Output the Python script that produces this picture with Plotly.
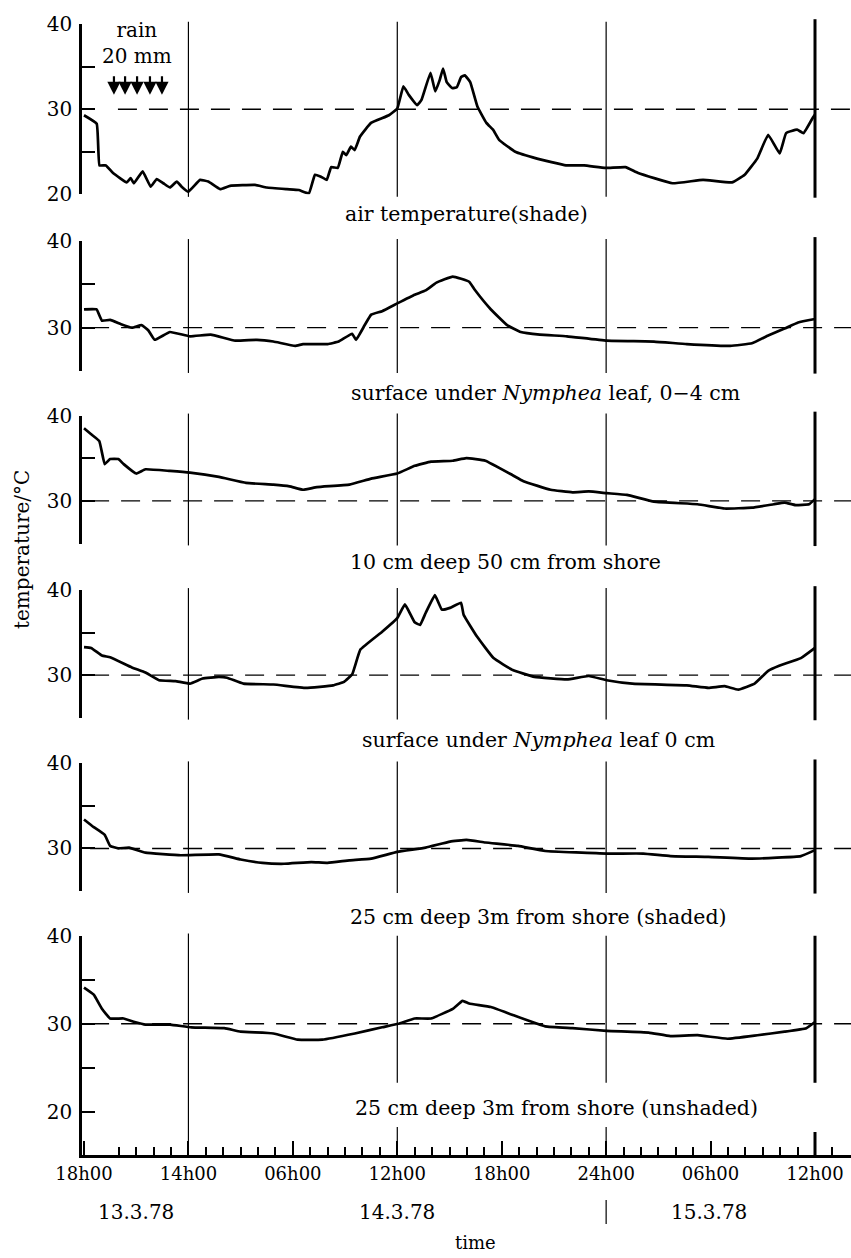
import plotly.graph_objects as go

# ---------------- data (hours after 18h00 on 13.3.78, temperature in °C) ----------------
AIR_H = [0, 0.73, 0.89, 1.26, 1.67, 2.45, 2.68, 2.87, 3.37, 3.83, 4.18, 4.56, 4.94, 5.33, 5.61,
         5.99, 6.67, 7.14, 7.82, 8.39, 9.83, 10.5, 11.65, 12.34, 12.92, 13.27, 13.58, 13.95, 14.2,
         14.58, 14.87, 15.07, 15.34, 15.55, 15.86, 16.49, 17.52, 18.0, 18.35, 18.66, 19.14, 19.39,
         19.91, 20.18, 20.43, 20.63, 20.84, 21.15, 21.42, 21.67, 21.88, 22.19, 22.61, 23.12, 23.5,
         23.85, 24.78, 26.03, 27.69, 28.73, 29.97, 31.11, 31.84, 33.81, 35.57, 37.23, 37.96, 38.68,
         39.31, 39.97, 40.34, 40.97, 41.34, 41.9, 42.0]
AIR_T = [29.3, 28.3, 23.4, 23.4, 22.5, 21.4, 21.9, 21.3, 22.7, 20.9, 21.8, 21.3, 20.8, 21.5, 20.9,
         20.3, 21.7, 21.5, 20.6, 21.0, 21.1, 20.8, 20.6, 20.5, 20.1, 22.3, 22.1, 21.7, 23.2,
         23.1, 25.0, 24.6, 25.6, 25.2, 26.8, 28.4, 29.3, 30.1, 32.7, 31.7, 30.5, 31.1,
         34.3, 32.1, 33.4, 34.8, 33.2, 32.5, 32.6, 33.8, 34.0, 33.2, 30.3, 28.4, 27.6,
         26.4, 25.0, 24.2, 23.4, 23.4, 23.1, 23.2, 22.5, 21.3, 21.7, 21.4, 22.3, 24.2,
         27.0, 24.8, 27.2, 27.6, 27.2, 29.1, 29.4]

SURF04_H = [0, 0.72, 1.03, 1.5, 2.13, 2.75, 3.31, 3.69, 4.06, 4.94, 6.09, 7.28, 8.69, 9.94, 10.88,
            12.13, 12.59, 14.0, 14.63, 15.4, 15.63, 16.13, 16.5, 17.13, 18.0, 19.0, 19.63, 20.25,
            21.19, 22.13, 22.44, 23.38, 24.31, 25.09, 26.19, 27.75, 30.03, 32.75, 34.63, 37.13,
            38.38, 39.31, 40.25, 41.03, 42.0]
SURF04_T = [32.1, 32.1, 30.8, 30.9, 30.4, 30.0, 30.3, 29.7, 28.6, 29.5, 29.0, 29.2, 28.5, 28.6, 28.4,
            27.9, 28.1, 28.1, 28.4, 29.3, 28.6, 30.3, 31.5, 31.9, 32.8, 33.8, 34.3, 35.2,
            35.9, 35.3, 34.4, 32.1, 30.3, 29.5, 29.2, 29.0, 28.5, 28.4, 28.1, 27.9,
            28.2, 29.1, 29.9, 30.6, 31.0]

DEEP10_H = [0, 0.41, 0.88, 1.19, 1.5, 1.97, 2.28, 3.0, 3.53, 4.94, 6.09, 7.75, 9.31, 10.88, 11.81,
            12.59, 13.38, 15.25, 16.5, 18.0, 19.0, 19.94, 21.19, 21.97, 23.06, 24.63, 25.25, 26.81,
            28.06, 29.0, 30.03, 31.19, 32.75, 35.25, 36.81, 38.38, 39.63, 40.25, 40.88, 41.66, 42.0]
DEEP10_T = [38.5, 37.8, 37.0, 34.3, 34.9, 34.9, 34.3, 33.2, 33.7, 33.5, 33.3, 32.8, 32.1, 31.9, 31.7,
            31.3, 31.6, 31.9, 32.6, 33.2, 34.1, 34.6, 34.7, 35.0, 34.7, 33.0, 32.3, 31.3,
            31.0, 31.1, 30.9, 30.7, 29.9, 29.6, 29.1, 29.2, 29.6, 29.8, 29.5, 29.6, 30.2]

SURF0_H = [0, 0.41, 1.03, 1.5, 2.75, 3.53, 4.31, 5.25, 6.09, 6.81, 7.75, 8.22, 9.16, 10.88, 12.75,
           14.31, 14.94, 15.41, 15.88, 17.13, 18.0, 18.44, 19.0, 19.31, 19.63, 20.16, 20.56, 21.03,
           21.66, 21.81, 22.59, 23.53, 24.63, 25.88, 27.75, 29.0, 30.03, 31.5, 34.63, 35.88, 36.81,
           37.59, 38.53, 39.31, 39.94, 41.19, 42.0]
SURF0_T = [33.3, 33.2, 32.3, 32.1, 30.9, 30.3, 29.4, 29.3, 29.0, 29.6, 29.8, 29.7, 29.0, 28.9, 28.5,
           28.8, 29.2, 30.1, 33.0, 35.1, 36.7, 38.3, 36.2, 35.9, 37.3, 39.4, 37.7, 37.9,
           38.5, 37.1, 34.5, 32.0, 30.6, 29.8, 29.5, 29.9, 29.4, 29.0, 28.8, 28.5, 28.7,
           28.3, 29.0, 30.5, 31.1, 32.0, 33.2]

SHADED_H = [0, 0.56, 1.19, 1.5, 1.97, 2.59, 3.53, 5.56, 7.75, 9.0, 10.25, 11.5, 13.06, 14.0, 15.25,
            16.5, 18.0, 19.63, 21.03, 21.97, 23.06, 24.94, 26.5, 30.03, 32.13, 33.69, 35.88, 38.38,
            41.19, 42.0]
SHADED_T = [33.4, 32.5, 31.6, 30.3, 30.0, 30.1, 29.5, 29.2, 29.3, 28.7, 28.3, 28.2, 28.4, 28.3, 28.6,
            28.8, 29.6, 30.1, 30.8, 31.0, 30.7, 30.3, 29.7, 29.4, 29.4, 29.1, 29.0, 28.8,
            29.1, 29.8]

UNSHADED_H = [0, 0.56, 1.03, 1.5, 2.28, 2.91, 3.53, 4.94, 6.16, 8.06, 9.0, 10.88, 12.28, 13.69, 15.56,
              17.13, 18.06, 19.0, 19.94, 21.19, 21.75, 22.13, 23.38, 24.63, 26.5, 28.06, 30.03, 32.44,
              33.69, 35.25, 36.97, 38.69, 40.25, 41.5, 42.0]
UNSHADED_T = [34.1, 33.3, 31.7, 30.6, 30.6, 30.2, 29.9, 29.9, 29.6, 29.5, 29.1, 28.9, 28.2, 28.2, 28.9,
              29.6, 30.0, 30.6, 30.6, 31.7, 32.6, 32.3, 31.9, 31.0, 29.7, 29.5, 29.2, 29.0,
              28.6, 28.7, 28.3, 28.7, 29.1, 29.5, 30.2]

PANEL_LABELS = ["air temperature(shade)",
                "surface under <i>Nymphea</i> leaf, 0\u22124 cm",
                "10 cm deep 50 cm from shore",
                "surface under <i>Nymphea</i> leaf 0 cm",
                "25 cm deep 3m from shore (shaded)",
                "25 cm deep 3m from shore (unshaded)"]

TICK_HOURS = [0, 6, 12, 18, 24, 30, 36, 42]
TICK_TEXT = ["18h00", "14h00", "06h00", "12h00", "18h00", "24h00", "06h00", "12h00"]
MINOR_HOURS = [h for h in range(2, 44) if h % 6 != 0]
MAJOR_LINE_HOURS = [6, 18, 30]
END_HOUR = 42
DATE_TEXT = ["13.3.78", "14.3.78", "15.3.78"]
DATE_HOURS = [3.0, 18.0, 35.9]
DAY_BREAK_HOUR = 30
RAIN_HOURS = [1.72, 2.36, 3.05, 3.79, 4.48]
REF_TEMP = 30

Y_RANGES = [[20, 40], [25, 40], [25, 40], [25, 40], [25, 40], [15.1, 40]]
Y_TICKS = [[20, 25, 30, 35, 40], [25, 30, 35, 40], [25, 30, 35, 40], [25, 30, 35, 40],
           [25, 30, 35, 40], [20, 25, 30, 35, 40]]
Y_TICKTEXT = [["20", "", "30", "", "40"], ["", "30", "", "40"], ["", "30", "", "40"],
              ["", "30", "", "40"], ["", "30", "", "40"], ["20", "", "30", "", "40"]]

SERIES = [(AIR_H, AIR_T), (SURF04_H, SURF04_T), (DEEP10_H, DEEP10_T),
          (SURF0_H, SURF0_T), (SHADED_H, SHADED_T), (UNSHADED_H, UNSHADED_T)]

# ---------------- layout geometry (pixels) ----------------
W, H = 851, 1258
FONT = "DejaVu Serif"
PANEL_PX = [(24.3, 194.3), (241, 371), (415.5, 543.5), (590, 717.7), (763.3, 891), (935.7, 1155)]
LABEL_POS = [(466, 214), (545, 393), (505, 562), (538, 740), (538, 917), (556, 1108)]
AXIS_LEFT_PX = 82
X0_PX, X42_PX = 84, 815
span = (X42_PX - X0_PX) / 42.0
XMIN = -(X0_PX - AXIS_LEFT_PX) / span
XMAX = XMIN + (W - AXIS_LEFT_PX) / span
DASH_START = [1.95, 0.35, 0.35, 0.35, 0.35, 0.35]


def py(p):
    return 1 - p / H


fig = go.Figure()
for i, (hx, ty) in enumerate(SERIES):
    fig.add_trace(go.Scatter(x=hx, y=ty, mode="lines", xaxis="x",
                             yaxis="y" if i == 0 else f"y{i+1}",
                             line=dict(color="black", width=2.7, shape="spline", smoothing=0.3),
                             hoverinfo="skip", showlegend=False))

layout = dict(
    width=W, height=H, margin=dict(l=0, r=0, t=0, b=0, autoexpand=False),
    paper_bgcolor="white", plot_bgcolor="white",
    font=dict(family=FONT, color="black", size=20),
    xaxis=dict(domain=[AXIS_LEFT_PX / W, 1], range=[XMIN, XMAX], anchor="y6", automargin=False,
               showline=True, linewidth=3, linecolor="black", showgrid=False, zeroline=False,
               ticks="inside", ticklen=14, tickwidth=1.5, tickcolor="black",
               tickmode="array", tickvals=TICK_HOURS, ticktext=TICK_TEXT,
               tickfont=dict(family=FONT, size=18, color="black"),
               minor=dict(tickmode="array", tickvals=MINOR_HOURS, ticks="inside", ticklen=8,
                          tickwidth=1.5, tickcolor="black", showgrid=False),
               fixedrange=True),
)
for i in range(6):
    top, bot = PANEL_PX[i]
    key = "yaxis" if i == 0 else f"yaxis{i+1}"
    layout[key] = dict(domain=[py(bot), py(top)], range=Y_RANGES[i], anchor="x",
                       automargin=False,
                       showline=True, linewidth=2.5, linecolor="black", showgrid=False,
                       zeroline=False, ticks="inside", ticklen=13, tickwidth=2,
                       tickcolor="black", tickmode="array", tickvals=Y_TICKS[i],
                       ticktext=Y_TICKTEXT[i], ticklabelstandoff=3,
                       tickfont=dict(family=FONT, size=20, color="black"), fixedrange=True)
fig.update_layout(**layout)

shapes = []
for i in range(6):
    yr = "y" if i == 0 else f"y{i+1}"
    # dashed 30 °C reference line
    shapes.append(dict(type="line", xref="x", yref=yr, x0=DASH_START[i], x1=XMAX,
                       y0=REF_TEMP, y1=REF_TEMP, layer="below",
                       line=dict(color="black", width=1.4, dash="19px,12px")))
    if i < 5:
        for hh in MAJOR_LINE_HOURS:
            shapes.append(dict(type="line", xref="x", yref=f"{yr} domain", x0=hh, x1=hh,
                               y0=-0.015, y1=1.015, layer="below",
                               line=dict(color="black", width=1.2)))
        shapes.append(dict(type="line", xref="x", yref=f"{yr} domain", x0=END_HOUR, x1=END_HOUR,
                           y0=-0.02, y1=1.03, layer="below", line=dict(color="black", width=3)))
    else:
        shapes.append(dict(type="line", xref="x", yref=f"{yr} domain", x0=6, x1=6,
                           y0=0, y1=1.01, layer="below", line=dict(color="black", width=1.2)))
        for hh in MAJOR_LINE_HOURS[1:]:
            shapes.append(dict(type="line", xref="x", yref=yr, x0=hh, x1=hh, y0=23.3, y1=40.2,
                               layer="below", line=dict(color="black", width=1.2)))
            shapes.append(dict(type="line", xref="x", yref=f"{yr} domain", x0=hh, x1=hh,
                               y0=0, y1=0.128, layer="below", line=dict(color="black", width=1.2)))
        shapes.append(dict(type="line", xref="x", yref=yr, x0=END_HOUR, x1=END_HOUR,
                           y0=23.3, y1=40.4, layer="below", line=dict(color="black", width=3)))
        shapes.append(dict(type="line", xref="x", yref=f"{yr} domain", x0=END_HOUR, x1=END_HOUR,
                           y0=0, y1=0.105, layer="below", line=dict(color="black", width=3)))
# day separator under the axis
shapes.append(dict(type="line", xref="x", yref="paper", x0=DAY_BREAK_HOUR, x1=DAY_BREAK_HOUR,
                   y0=py(1224), y1=py(1200), line=dict(color="black", width=1.2)))

annotations = []
for i, txt in enumerate(PANEL_LABELS):
    cx, cy = LABEL_POS[i]
    annotations.append(dict(text=txt, xref="paper", yref="paper", x=cx / W, y=py(cy),
                            xanchor="center", yanchor="middle", showarrow=False,
                            font=dict(family=FONT, size=20.5, color="black")))
annotations.append(dict(text="rain<br>20 mm", xref="paper", yref="paper", x=137 / W, y=py(43),
                        xanchor="center", yanchor="middle", showarrow=False,
                        font=dict(family=FONT, size=20, color="black")))
for hh in RAIN_HOURS:
    annotations.append(dict(text="", xref="x", yref="y", x=hh, y=31.7, ax=0, ay=-20,
                            showarrow=True, arrowhead=2, arrowsize=1.2, arrowwidth=2.2,
                            arrowcolor="black"))
for txt, hh in zip(DATE_TEXT, DATE_HOURS):
    annotations.append(dict(text=txt, xref="x", yref="paper", x=hh, y=py(1212),
                            xanchor="center", yanchor="middle", showarrow=False,
                            font=dict(family=FONT, size=20, color="black")))
annotations.append(dict(text="time", xref="paper", yref="paper", x=475 / W, y=py(1255),
                        xanchor="center", yanchor="bottom", showarrow=False,
                        font=dict(family=FONT, size=18, color="black")))
annotations.append(dict(text="temperature/\u00b0C", xref="paper", yref="paper", x=22 / W,
                        y=py(550), xanchor="center", yanchor="middle", textangle=-90,
                        showarrow=False, font=dict(family=FONT, size=20, color="black")))

fig.update_layout(shapes=shapes, annotations=annotations)
fig.write_html("out.html")
